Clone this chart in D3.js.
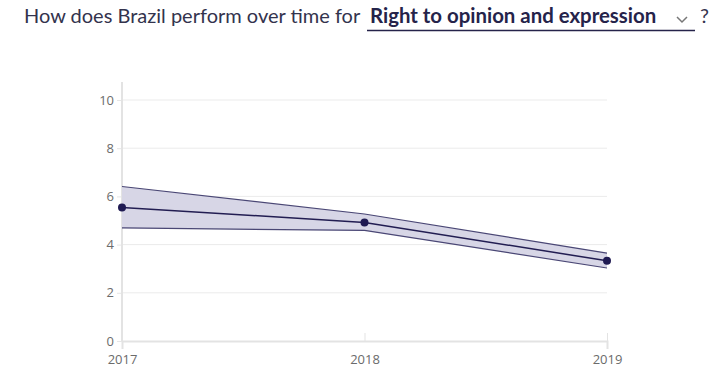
<!DOCTYPE html>
<html>
<head>
<meta charset="utf-8">
<script src="https://cdn.jsdelivr.net/npm/d3@7"></script>
<style>
  body { margin: 0; background: #fff; font-family: Lato, "Open Sans", sans-serif; }
  .tick text { fill: #6b6b6b; font-size: 13px; font-family: "Open Sans", sans-serif; }
</style>
</head>
<body>
<div id="chart"></div>
<script>
// data
const years = [2017, 2018, 2019];
const meanScore = [5.54, 4.92, 3.33];
const upperScore = [6.41, 5.27, 3.65];
const lowerScore = [4.69, 4.59, 3.03];
const yTicks = [0, 2, 4, 6, 8, 10];

const svgWidth = 720;
const svgHeight = 386;
const margin = {top: 100, right: 113, bottom: 45, left: 122};
const width = svgWidth - margin.left - margin.right;
const height = svgHeight - margin.top - margin.bottom;

const svg = d3.select('#chart').append('svg')
    .attr('width', svgWidth).attr('height', svgHeight);

// title + fake dropdown
const title = svg.append('g').attr('class', 'title');
title.append('text')
    .attr('x', 24).attr('y', 23)
    .attr('fill', '#33334d')
    .style('font-size', '20px')
    .text('How does Brazil perform over time for');
title.append('text')
    .attr('x', 370).attr('y', 23)
    .attr('fill', '#25234a')
    .style('font-size', '20.4px').style('font-weight', 'bold')
    .text('Right to opinion and expression');
title.append('path')
    .attr('d', 'M677,17 l5,5 l5,-5')
    .attr('fill', 'none').attr('stroke', '#777').attr('stroke-width', 1.5);
title.append('line')
    .attr('x1', 367).attr('x2', 695).attr('y1', 30.5).attr('y2', 30.5)
    .attr('stroke', '#25234a').attr('stroke-width', 1.5);
title.append('text')
    .attr('x', 700).attr('y', 23)
    .attr('fill', '#33334d')
    .style('font-size', '20px')
    .text('?');

const chartGroup = svg.append('g').attr('transform', `translate(${margin.left}, ${margin.top})`);

const x = d3.scalePoint().domain(years).range([0, width]);
const y = d3.scaleLinear().domain([0, 10]).range([height, 0]);

// horizontal gridlines
chartGroup.append('g')
    .selectAll('line').data(yTicks.slice(1)).enter()
    .append('line')
    .attr('x1', 0).attr('x2', width)
    .attr('y1', d => y(d)).attr('y2', d => y(d))
    .attr('stroke', '#ebebeb').attr('stroke-width', 1);

const leftAxis = d3.axisLeft(y).tickValues(yTicks).tickSize(5).tickPadding(3);
const yAxis = chartGroup.append('g').call(leftAxis);
yAxis.select('.domain').remove();
yAxis.selectAll('.tick line').attr('stroke', '#e6e6e6');
chartGroup.append('line')
    .attr('x1', 0).attr('x2', 0).attr('y1', -18).attr('y2', height)
    .attr('stroke', '#e3e3e3').attr('stroke-width', 2);

const bottomAxis = d3.axisBottom(x).tickSize(8).tickPadding(6);
const xAxis = chartGroup.append('g')
    .attr('transform', `translate(0, ${height})`)
    .call(bottomAxis);
xAxis.select('.domain').attr('stroke', '#e3e3e3').attr('stroke-width', 2);
xAxis.selectAll('.tick line').attr('stroke', '#e3e3e3').attr('y1', -8).attr('y2', 0);

const series = years.map((yr, i) => ({year: yr, mean: meanScore[i], hi: upperScore[i], lo: lowerScore[i]}));

chartGroup.append('path')
    .datum(series)
    .attr('d', d3.area().x(d => x(d.year)).y0(d => y(d.lo)).y1(d => y(d.hi)))
    .attr('fill', '#d7d6e6');

chartGroup.append('path')
    .datum(series)
    .attr('d', d3.line().x(d => x(d.year)).y(d => y(d.hi)))
    .attr('fill', 'none').attr('stroke', '#4a4775').attr('stroke-width', 1.2);
chartGroup.append('path')
    .datum(series)
    .attr('d', d3.line().x(d => x(d.year)).y(d => y(d.lo)))
    .attr('fill', 'none').attr('stroke', '#4a4775').attr('stroke-width', 1.2);

chartGroup.append('path')
    .datum(series)
    .attr('d', d3.line().x(d => x(d.year)).y(d => y(d.mean)))
    .attr('fill', 'none').attr('stroke', '#221d52').attr('stroke-width', 1.5);

chartGroup.selectAll('circle').data(series).enter()
    .append('circle')
    .attr('cx', d => x(d.year)).attr('cy', d => y(d.mean))
    .attr('r', 4)
    .attr('fill', '#1f1a52');
</script>
</body>
</html>
